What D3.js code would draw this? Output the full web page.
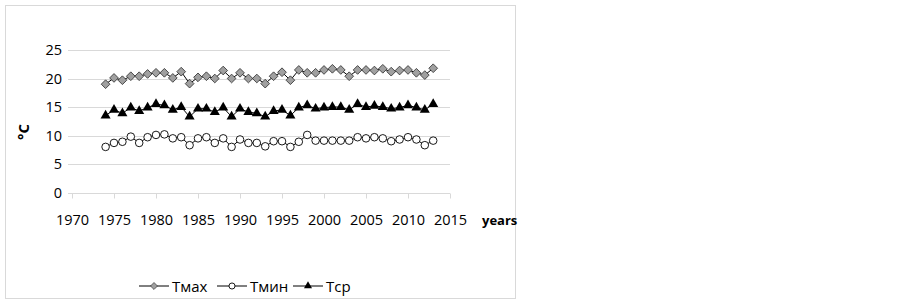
<!DOCTYPE html>
<html>
<head>
<meta charset="utf-8">
<script src="https://cdn.jsdelivr.net/npm/d3@7"></script>
<style>
  body { margin: 0; background: #fff; }
  svg { font-family: "Open Sans", "Liberation Sans", sans-serif; }
</style>
</head>
<body>
<div id="chart"></div>
<script>
// Data
var years = d3.range(1974, 2014);
var tmax = [19.0, 20.1, 19.7, 20.4, 20.4, 20.8, 21.0, 21.0, 20.1, 21.2,
            19.1, 20.2, 20.4, 20.0, 21.4, 20.0, 21.0, 20.0, 20.0, 19.1,
            20.4, 21.1, 19.7, 21.5, 21.0, 21.0, 21.5, 21.7, 21.5, 20.4,
            21.5, 21.5, 21.4, 21.7, 21.2, 21.4, 21.5, 21.0, 20.6, 21.8];
var tmin = [8.0, 8.7, 8.9, 9.8, 8.7, 9.7, 10.1, 10.2, 9.5, 9.7,
            8.3, 9.5, 9.7, 8.7, 9.5, 8.0, 9.3, 8.7, 8.7, 8.1,
            9.0, 9.0, 8.0, 8.9, 10.1, 9.1, 9.1, 9.1, 9.1, 9.1,
            9.7, 9.5, 9.7, 9.5, 9.0, 9.3, 9.7, 9.3, 8.3, 9.1];
var tsr = [13.5, 14.5, 13.9, 14.9, 14.3, 14.9, 15.5, 15.3, 14.5, 15.0,
           13.3, 14.7, 14.7, 14.1, 14.9, 13.3, 14.7, 14.1, 13.9, 13.3,
           14.3, 14.5, 13.5, 14.9, 15.3, 14.7, 14.9, 15.0, 15.0, 14.5,
           15.5, 15.0, 15.2, 15.0, 14.7, 14.9, 15.3, 14.9, 14.5, 15.5];
var xTicks = d3.range(1970, 2016, 5);
var yTicks = [0, 5, 10, 15, 20, 25];
var seriesNames = ['Tмах', 'Tмин', 'Tср'];

var width = 899;
var height = 305;

var svg = d3.select('#chart')
            .append('svg')
            .attr('width', width)
            .attr('height', height);

// Outer chart border
svg.append('rect')
   .attr('x', 5.5)
   .attr('y', 5.5)
   .attr('width', 510)
   .attr('height', 293)
   .attr('fill', '#fff')
   .attr('stroke', '#d9d9d9');

var x = d3.scaleLinear().domain([1970, 2015]).range([72, 450]);
var y = d3.scaleLinear().domain([0, 25]).range([192.5, 50]);

// Gridlines
svg.append('g')
   .selectAll('line')
   .data(yTicks.filter(function (d) { return d > 0; }))
   .enter()
   .append('line')
   .attr('x1', 68)
   .attr('x2', 450)
   .attr('y1', function (d) { return Math.round(y(d)) + 0.5; })
   .attr('y2', function (d) { return Math.round(y(d)) + 0.5; })
   .attr('stroke', '#d9d9d9');

// X axis line with ticks
var xAxis = svg.append('g')
               .attr('transform', 'translate(0,' + (Math.round(y(0)) + 0.5) + ')')
               .call(d3.axisBottom(x).tickValues(xTicks).tickSize(5).tickFormat(d3.format('d')));
xAxis.select('.domain').attr('d', 'M68,0H450').attr('stroke', '#d9d9d9');
xAxis.selectAll('.tick line').attr('stroke', '#d9d9d9');
xAxis.selectAll('.tick text')
     .attr('y', 21)
     .attr('font-size', 14.5)
     .attr('font-family', '"Open Sans", sans-serif')
     .attr('fill', '#000');

// Y axis labels
var yAxis = svg.append('g')
               .attr('transform', 'translate(68,0)')
               .call(d3.axisLeft(y).tickValues(yTicks).tickSize(0).tickPadding(6));
yAxis.select('.domain').remove();
yAxis.selectAll('.tick text')
     .attr('font-size', 14.5)
     .attr('font-family', '"Open Sans", sans-serif')
     .attr('fill', '#000');

// Axis titles
svg.append('text')
   .attr('transform', 'translate(29,132) rotate(-90)')
   .attr('text-anchor', 'middle')
   .attr('font-size', 15)
   .attr('font-weight', 'bold')
   .text('°C');

svg.append('text')
   .attr('x', 482)
   .attr('y', 225)
   .attr('font-size', 13)
   .attr('font-weight', 'bold')
   .text('years');

// Marker drawing helpers
var diamond = d3.symbol().type(d3.symbolSquare).size(38);
var triangle = d3.symbol().type(d3.symbolTriangle).size(44);

function drawMarker(g, kind, scale) {
  var k = scale || 1;
  if (kind === 'diamond') {
    g.append('path')
     .attr('d', diamond)
     .attr('transform', 'scale(' + k + ') rotate(45)')
     .attr('fill', '#a0a0a0')
     .attr('stroke', '#333')
     .attr('stroke-width', 0.8);
  } else if (kind === 'circle') {
    g.append('circle')
     .attr('r', 3.8 * k)
     .attr('fill', '#fff')
     .attr('stroke', '#000')
     .attr('stroke-width', 0.9);
  } else {
    g.append('path')
     .attr('d', triangle)
     .attr('transform', 'scale(' + k + ')')
     .attr('fill', '#000');
  }
}

var series = [
  { name: seriesNames[0], values: tmax, marker: 'diamond' },
  { name: seriesNames[1], values: tmin, marker: 'circle' },
  { name: seriesNames[2], values: tsr, marker: 'triangle' }
];

var line = d3.line()
             .x(function (d) { return x(d[0]); })
             .y(function (d) { return y(d[1]); });

series.forEach(function (s) {
  var pts = years.map(function (yr, i) { return [yr, s.values[i]]; });
  svg.append('path')
     .datum(pts)
     .attr('d', line)
     .attr('fill', 'none')
     .attr('stroke', '#000')
     .attr('stroke-width', 1);
  svg.append('g')
     .selectAll('g')
     .data(pts)
     .enter()
     .append('g')
     .attr('transform', function (d) {
       return 'translate(' + x(d[0]) + ',' + y(d[1]) + ')';
     })
     .each(function () { drawMarker(d3.select(this), s.marker); });
});

// Legend
var legendX = [139, 217, 293];
var legend = svg.append('g').attr('transform', 'translate(0,286)');
series.forEach(function (s, i) {
  var lg = legend.append('g').attr('transform', 'translate(' + legendX[i] + ',0)');
  lg.append('line')
    .attr('x1', 0)
    .attr('x2', 30)
    .attr('stroke', '#000');
  drawMarker(lg.append('g').attr('transform', 'translate(15,0)'), s.marker, 0.8);
  lg.append('text')
    .attr('x', 33)
    .attr('y', 5.5)
    .attr('font-size', 15)
    .text(s.name);
});
</script>
</body>
</html>
